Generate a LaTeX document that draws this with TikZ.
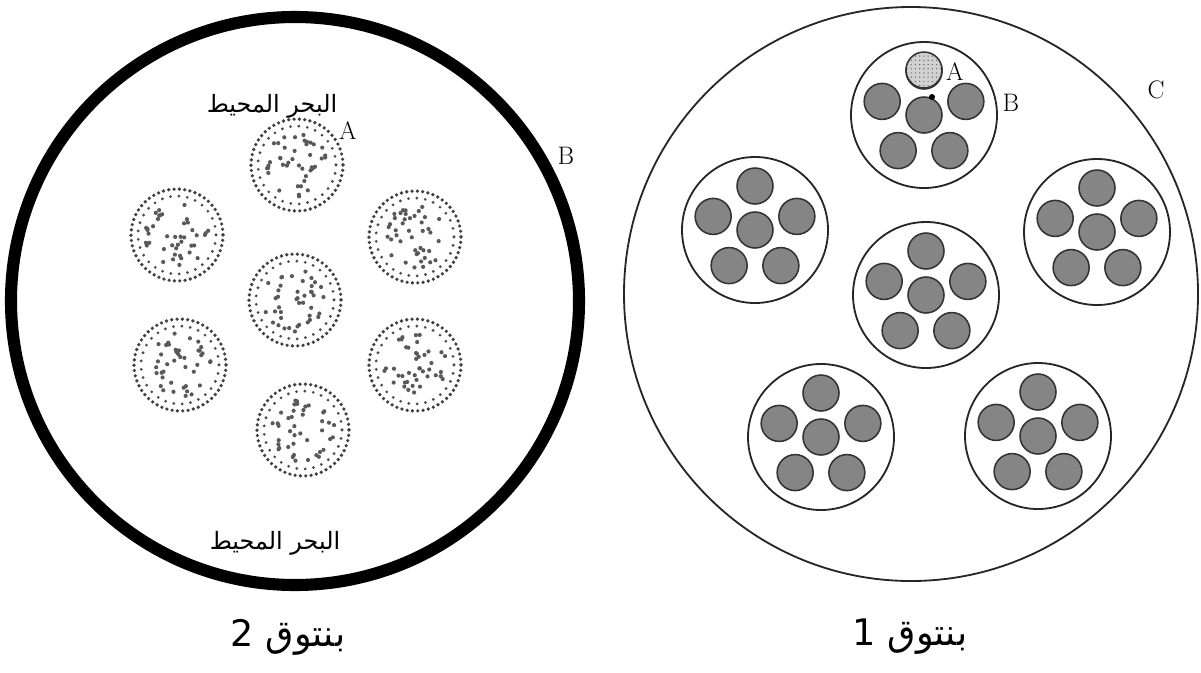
\documentclass[tikz,border=0pt]{standalone}
\usepackage{fontspec}
\newfontfamily\arabicfont[Script=Arabic]{DejaVu Sans}
\TeXXeTstate=1
\usetikzlibrary{positioning}
\usetikzlibrary{calc}
\usetikzlibrary{patterns}

\tikzset{
    thickring/.style={draw=black, line width=8.6pt},
    thinring/.style={draw=black!85, line width=1.3pt},
    grpring/.style={draw=black!85, line width=1.3pt},
    cellrim/.style={draw=black!75, line width=2.6pt, line cap=round, dash pattern=on 0pt off 3.8pt},
    cellrimb/.style={draw=black!70, line width=2.2pt, line cap=round, dash pattern=on 0pt off 6pt},
    grain/.style={fill=black!65},
    disk/.style={draw=black!80, line width=1.1pt, fill=black!48},
    lightdisk/.style={draw=black!80, line width=1.1pt, fill=black!18},
    lbl/.style={font=\fontsize{18}{20}\selectfont, inner sep=0pt},
    sea/.style={font=\arabicfont\fontsize{17}{20}\selectfont, inner sep=0pt},
    capline/.style={font=\arabicfont\fontsize{26}{30}\selectfont, inner sep=0pt}
}

\begin{document}
\begin{tikzpicture}[x=0.025cm, y=-0.025cm]
    \useasboundingbox (0,0) rectangle (1201,672);
    \pgfmathsetseed{4711}

    % left: the ring and its seven cells
    \coordinate (L) at (295,301);
    \draw[thickring] (L) circle (284);

    \foreach \cx/\cy [count=\i] in {295/300, 297/165, 177/235, 415/237, 180/365, 415/365, 303/430} {
        \coordinate (cell\i) at (\cx,\cy);
        \draw[cellrim] (cell\i) circle (46);
        \draw[cellrimb] (cell\i) circle (39);
        \foreach \k in {1,...,42} {
            \pgfmathsetmacro\rr{32*sqrt(rnd)}
            \pgfmathsetmacro\aa{360*rnd}
            \fill[grain] (cell\i) ++(\aa:\rr) circle (2.1);
        }
    }

    \node[lbl] (labA2) at (348,131) {A};
    \node[lbl] (labB2) at (566,156) {B};
    \node[sea] (seaTop) at (272,106) {\beginR البحر المحيط\endR};
    \node[sea] (seaBot) at (275,543) {\beginR البحر المحيط\endR};

    % right: the circle and its six groups
    \coordinate (R) at (911,294);
    \draw[thinring] (R) circle (287);

    \foreach \gx/\gy [count=\j] in {924/115, 755/230, 1097/232, 926/295, 821/437, 1038/436} {
        \coordinate (grp\j) at (\gx,\gy);
        \draw[grpring] (grp\j) circle (73);
        \draw[disk] (grp\j) circle (18);
        \foreach \a in {270,198,126,54,342}
            \draw[disk] (grp\j) ++(\a:44) circle (18);
    }
    \draw[lightdisk] (grp1) ++(270:45) circle (18);
    \fill[pattern=dots, pattern color=black!60] (grp1) ++(270:45) circle (17);
    \fill (932,97) circle (3);

    \node[lbl] (labA1) at (955,72) {A};
    \node[lbl] (labB1) at (1011,103) {B};
    \node[lbl] (labC1) at (1156,90) {C};

    % captions
    \node[capline] (cap2) at (288,637) {\beginR بنتوق 2\endR};
    \node[capline] (cap1) at (910,637) {\beginR بنتوق 1\endR};
\end{tikzpicture}
\end{document}
